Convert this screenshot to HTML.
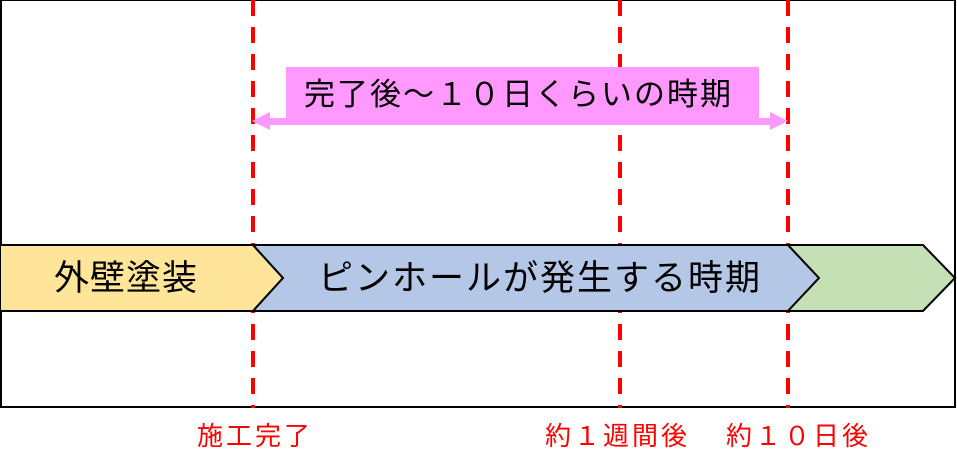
<!DOCTYPE html>
<html><head><meta charset="utf-8"><style>
body{margin:0;width:957px;height:473px;background:#fff;overflow:hidden;position:relative;font-family:"Liberation Sans","Noto Sans CJK JP",sans-serif}
.t{position:absolute;white-space:nowrap;line-height:1}
</style></head><body>
<svg width="957" height="473" style="position:absolute;left:0;top:0">
<rect x="1" y="0" width="954" height="407" fill="#fff" stroke="#000" stroke-width="2"/>
<g stroke="#ff0000" stroke-width="4" stroke-dasharray="16,11">
<line x1="253" y1="0" x2="253" y2="408"/>
<line x1="620" y1="0" x2="620" y2="408"/>
<line x1="788" y1="0" x2="788" y2="408"/>
</g>
<polygon points="0,245 253,245 283,278 253,311 0,311" fill="#fee599" stroke="#000" stroke-width="2"/>
<polygon points="253,245 788,245 819,278 788,311 253,311 283,278" fill="#b4c7e7" stroke="#000" stroke-width="2"/>
<polygon points="788,245 923,245 955,278 923,311 788,311 819,278" fill="#c5e0b4" stroke="#000" stroke-width="2"/>
<rect x="286" y="67" width="473" height="56" fill="#ff99ff"/>
<rect x="266" y="118" width="506" height="7" fill="#ff99ff"/>
<polygon points="252,121 270,112 270,130" fill="#ff99ff"/>
<polygon points="788,121 770,112 770,130" fill="#ff99ff"/>
</svg>
<div class="t" style="left:304px;top:79px;font-size:31px;letter-spacing:2px">完了後～１０日くらいの時期</div>
<div class="t" style="left:54px;top:261px;font-size:35px;letter-spacing:1px">外壁塗装</div>
<div class="t" style="left:318px;top:261px;font-size:35px;letter-spacing:2px">ピンホールが発生する時期</div>
<div class="t" style="left:197px;top:423px;font-size:26px;color:#ff0000;letter-spacing:3px">施工完了</div>
<div class="t" style="left:545px;top:423px;font-size:26px;color:#ff0000;letter-spacing:3px">約１週間後</div>
<div class="t" style="left:726px;top:423px;font-size:26px;color:#ff0000;letter-spacing:3px">約１０日後</div>
</body></html>
